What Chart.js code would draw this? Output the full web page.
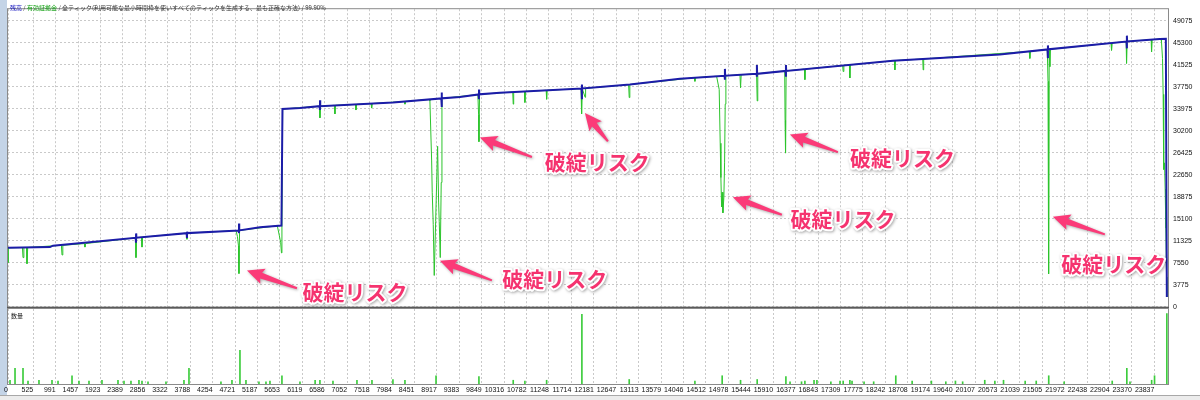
<!DOCTYPE html>
<html>
<head>
<meta charset="utf-8">
<script src="https://cdn.jsdelivr.net/npm/chart.js@4.4.1/dist/chart.umd.min.js"></script>
<style>
  html, body { margin: 0; padding: 0; background: #fff; }
  #wrap { position: relative; width: 1200px; height: 400px; overflow: hidden; background: #fff; }
  #side { position: absolute; left: 0; top: 0; width: 7px; height: 400px; background: #c4d4e7; }
  #cMain { position: absolute; left: 0; top: 0; }
  #cVol { position: absolute; left: 0; top: 308px; }
  #tabs { position: absolute; left: 0; top: 395px; width: 1200px; height: 5px; background: #ececec; border-top: 1px solid #a8a8a8; }
</style>
</head>
<body>
<div id="wrap">
  <div id="side"></div>
  <canvas id="cMain" width="1200" height="316"></canvas>
  <canvas id="cVol" width="1200" height="87"></canvas>
  <div id="tabs"></div>
</div>
<script>
// x axis = trade/tick number, y = account money
const xTicks = [0, 525, 991, 1457, 1923, 2389, 2856, 3322, 3788, 4254, 4721, 5187, 5653, 6119, 6586, 7052,
  7518, 7984, 8451, 8917, 9383, 9849, 10316, 10782, 11248, 11714, 12181, 12647, 13113, 13579, 14046, 14512,
  14978, 15444, 15910, 16377, 16843, 17309, 17775, 18242, 18708, 19174, 19640, 20107, 20573, 21039, 21505,
  21972, 22438, 22904, 23370, 23837];
const yTicks = [0, 3775, 7550, 11325, 15100, 18875, 22650, 26425, 30200, 33975, 37750, 41525, 45300, 49075];
const X_MAX = 24120;
const Y_MAX = 51090;

// balance (残高) [index, value]
const balance = [
  [0, 10130], [873, 10250], [935, 10500],
  [2655, 11840], [2661, 11000], [2663, 12600], [2667, 11850],
  [3715, 12640], [3721, 11800], [3723, 12900], [3727, 12650],
  [4795, 13100], [4802, 12650], [4804, 14300], [4808, 13120],
  [5239, 13660], [5686, 13950], [5707, 33950], [6071, 34120],
  [6480, 34440], [6486, 33780], [6488, 35460], [6492, 34450],
  [8004, 35080],
  [9010, 35780], [9017, 34290], [9019, 36800], [9023, 35790],
  [9397, 36020],
  [9786, 36460], [9792, 35630], [9794, 37310], [9798, 36470],
  [10229, 36760],
  [11927, 37460], [11933, 35630], [11935, 38150], [11940, 37470],
  [12931, 38150], [13971, 39160],
  [14900, 39650], [14906, 38990], [14908, 40840], [14912, 39660],
  [15565, 39990], [15571, 39500], [15573, 41510], [15577, 40000],
  [16170, 40490], [16175, 39500], [16177, 41510], [16181, 40500],
  [18399, 42240], [20624, 43310],
  [21615, 44190], [21622, 42690], [21624, 44870], [21628, 44200],
  [23258, 45540], [23264, 44370], [23266, 46550], [23270, 45550],
  [23950, 45970], [24075, 46000], [24096, 1680]
];

// equity (有効証拠金) [index, value]
const equity = [
  [0, 10130], [4, 9000], [6, 7560], [10, 10130],
  [300, 10170], [312, 8450], [330, 10170],
  [385, 10180], [395, 7400], [410, 10180],
  [1110, 10560], [1123, 8900], [1140, 10560],
  [1590, 10850], [1600, 10250], [1615, 10860],
  [2650, 11840], [2661, 8450], [2675, 11860],
  [2775, 11940], [2786, 10250], [2800, 11950],
  [3710, 12640], [3721, 11600], [3735, 12650],
  [4740, 13080], [4770, 12100], [4792, 10500], [4802, 5710], [4815, 13120],
  [5600, 13900], [5640, 12300], [5670, 11000], [5686, 9250], [5696, 13950],
  [5710, 33950],
  [6475, 34440], [6486, 32440], [6500, 34450],
  [6785, 34580], [6798, 33110], [6810, 34590],
  [7225, 34750], [7235, 33780], [7250, 34760],
  [7550, 34880], [7561, 34120], [7575, 34890],
  [8245, 35250], [8254, 34790], [8265, 35260],
  [8760, 35600], [8773, 35340], [8809, 25040], [8821, 19660], [8842, 14120], [8863, 5380],
  [8892, 14620], [8913, 21340], [8933, 27560], [8954, 17980], [8967, 14620], [8988, 8450],
  [9008, 21340], [9023, 35920], [9040, 35780],
  [9770, 36440], [9785, 33000], [9792, 28350], [9805, 36480],
  [10495, 36870], [10505, 34790], [10515, 36880],
  [10740, 36970], [10748, 35080], [10760, 36980],
  [11190, 37160], [11200, 35630], [11210, 37170],
  [11915, 37460], [11927, 33110], [11940, 37470], [12000, 35970], [12010, 37510],
  [12905, 38130], [12917, 35920], [12930, 38150],
  [14270, 39320], [14283, 38710], [14295, 39330],
  [14734, 39570], [14788, 37310], [14809, 28070], [14823, 22190], [14838, 17140], [14850, 19660],
  [14865, 16130], [14885, 18820], [14900, 24710], [14913, 34790], [14927, 39670],
  [15220, 39820], [15232, 37600], [15245, 39830],
  [15565, 40000], [15578, 35340], [15590, 40010],
  [16150, 40480], [16158, 32000], [16165, 28000], [16170, 26390], [16180, 40500],
  [16560, 40800], [16570, 39000], [16580, 40810],
  [17355, 41420], [17366, 40390], [17380, 41440],
  [17495, 41530], [17505, 39280], [17515, 41540],
  [18430, 42260], [18441, 40670], [18455, 42270],
  [19020, 42540], [19029, 40670], [19040, 42550],
  [21235, 43850], [21247, 42640], [21260, 43860],
  [21610, 44190], [21625, 38700], [21632, 31500], [21638, 14620], [21643, 5660], [21650, 44200],
  [21663, 41230], [21675, 44210],
  [22935, 45280], [22946, 44030], [22960, 45290],
  [23250, 45540], [23258, 41800], [23270, 45550],
  [23770, 45860], [23778, 43750], [23790, 45870],
  [23975, 45970], [23985, 45430], [24006, 42640], [24019, 36470], [24027, 29190], [24034, 23580],
  [24048, 24710], [24061, 20220], [24075, 13500], [24090, 5090], [24096, 1680]
];

// volume (数量) [index, lots]
const volume = [
  [42, 0.5], [146, 2.1], [312, 2.1], [416, 0.4], [644, 0.5], [915, 0.5], [1040, 0.4], [1331, 1.1],
  [1476, 0.4], [1684, 0.4], [1954, 0.5], [2287, 0.5], [2412, 0.4], [2557, 0.4], [2723, 0.5], [2786, 0.4],
  [2911, 0.3], [3285, 0.3], [3659, 0.5], [3763, 2.1], [4428, 0.3], [4657, 0.5], [4823, 4.5], [4948, 0.5],
  [5218, 0.3], [5364, 0.3], [5447, 0.4], [5696, 1.1], [6071, 0.3], [6386, 0.5], [6486, 0.5], [6757, 0.4],
  [7256, 0.5], [7568, 0.5], [8004, 0.6], [8254, 0.5], [8900, 1.1], [9792, 1.0], [10505, 0.5], [10748, 0.4],
  [11200, 0.5], [11933, 9.3], [12917, 0.6], [14283, 0.4], [14850, 1.1], [15232, 0.5], [15578, 0.6],
  [16175, 1.0], [16261, 0.3], [16500, 0.3], [16570, 0.4], [16760, 0.5], [16820, 0.5], [17110, 0.3],
  [17300, 0.4], [17366, 0.4], [17505, 0.5], [17550, 0.4], [17800, 0.3], [18000, 0.3], [18460, 1.1],
  [18800, 0.4], [19200, 0.4], [19500, 0.3], [19700, 0.4], [19850, 0.3], [20310, 0.5], [20520, 0.4],
  [20700, 0.5], [21150, 0.4], [21380, 0.4], [21640, 1.1], [21960, 0.3], [22960, 0.4], [23264, 2.1],
  [23330, 0.3], [23780, 0.5], [23840, 1.1], [24096, 9.4]
];

// callouts: label position and arrows [tailX, tailY, tipX, tipY] in data units
const calloutText = '破綻リスク';
const calloutLabels = [[7214, 2520], [11370, 4710], [12250, 24870], [17360, 15130], [18600, 25550], [22990, 7400]];
const calloutArrows = [
  [6008, 3190, 4969, 6220],
  [10062, 4540, 8981, 7900],
  [10894, 25720, 9813, 29080],
  [12474, 28400, 11996, 33280],
  [16091, 15800, 15072, 18820],
  [17256, 26550, 16258, 29580],
  [22807, 12440, 21726, 15460]
];

const gridColor = '#c9c9c9';
const tickFont = { family: 'Liberation Sans', size: 7 };
const pts = arr => arr.map(p => ({ x: p[0], y: p[1] }));
const plainNum = v => String(v);

const framePlugin = {
  id: 'frame',
  beforeDraw(chart) {
    const { ctx, chartArea: a } = chart;
    ctx.save();
    ctx.fillStyle = '#fff';
    ctx.fillRect(a.left, a.top, a.right - a.left, a.bottom - a.top);
    ctx.restore();
  },
  afterDraw(chart) {
    const { ctx, chartArea: a } = chart;
    ctx.save();
    ctx.strokeStyle = '#8a8a8a';
    ctx.lineWidth = 1;
    ctx.strokeRect(a.left - 0.5, a.top - 0.5, a.right - a.left + 1, a.bottom - a.top + 1);
    if (chart.canvas.id === 'cMain') {
      ctx.strokeStyle = '#5a5a5a';
      ctx.lineWidth = 2;
      ctx.beginPath();
      ctx.moveTo(a.left - 1, a.bottom + 1);
      ctx.lineTo(a.right + 1, a.bottom + 1);
      ctx.stroke();
    }
    ctx.restore();
  }
};

function drawArrow(ctx, x0, y0, x1, y1) {
  const dx = x1 - x0, dy = y1 - y0;
  const len = Math.hypot(dx, dy);
  const ux = dx / len, uy = dy / len, nx = -uy, ny = ux;
  const head = 15, hw = 8;
  const bx = x1 - ux * head, by = y1 - uy * head;
  ctx.beginPath();
  ctx.moveTo(x0 + nx * 1, y0 + ny * 1);
  ctx.lineTo(bx + nx * 3, by + ny * 3);
  ctx.lineTo(bx - ux * 2 + nx * hw, by - uy * 2 + ny * hw);
  ctx.lineTo(x1, y1);
  ctx.lineTo(bx - ux * 2 - nx * hw, by - uy * 2 - ny * hw);
  ctx.lineTo(bx - nx * 3, by - ny * 3);
  ctx.lineTo(x0 - nx * 1, y0 - ny * 1);
  ctx.closePath();
  ctx.fill();
}

const calloutPlugin = {
  id: 'callouts',
  afterDatasetsDraw(chart) {
    const { ctx, scales: { x, y } } = chart;
    ctx.save();
    ctx.shadowColor = 'rgba(0,0,0,0.35)';
    ctx.shadowBlur = 3;
    ctx.shadowOffsetX = 1;
    ctx.shadowOffsetY = 1;
    ctx.fillStyle = '#fb3a78';
    calloutArrows.forEach(a => {
      drawArrow(ctx, x.getPixelForValue(a[0]), y.getPixelForValue(a[1]),
        x.getPixelForValue(a[2]), y.getPixelForValue(a[3]));
    });
    ctx.font = 'bold 21px "Noto Sans CJK JP"';
    ctx.textAlign = 'center';
    ctx.textBaseline = 'middle';
    ctx.lineJoin = 'round';
    calloutLabels.forEach(l => {
      const px = x.getPixelForValue(l[0]), py = y.getPixelForValue(l[1]);
      ctx.strokeStyle = '#fff';
      ctx.lineWidth = 4;
      ctx.strokeText(calloutText, px, py);
    });
    ctx.shadowColor = 'transparent';
    calloutLabels.forEach(l => {
      const px = x.getPixelForValue(l[0]), py = y.getPixelForValue(l[1]);
      ctx.fillStyle = '#f5336f';
      ctx.fillText(calloutText, px, py);
    });
    ctx.restore();
  }
};

const titlePlugin = {
  id: 'title',
  afterDraw(chart) {
    const ctx = chart.ctx;
    const parts = [
      ['残高', '#1010c0'], [' / ', '#333'], ['有効証拠金', '#10a010'],
      [' / 全ティック(利用可能な最小時間枠を使いすべてのティックを生成する、最も正確な方法) / 99.90%', '#333']
    ];
    ctx.save();
    ctx.font = '6px "Noto Sans CJK JP"';
    ctx.textBaseline = 'middle';
    let px = 10;
    parts.forEach(p => {
      ctx.fillStyle = p[1];
      ctx.fillText(p[0], px, 8);
      px += ctx.measureText(p[0]).width;
    });
    ctx.restore();
  }
};

new Chart(document.getElementById('cMain'), {
  type: 'line',
  data: {
    datasets: [
      { label: '有効証拠金', data: pts(equity), borderColor: '#2cc42c', borderWidth: 1, pointRadius: 0, tension: 0, order: 2 },
      { label: '残高', data: pts(balance), borderColor: '#1c1ca8', borderWidth: 2, pointRadius: 0, tension: 0, order: 1 }
    ]
  },
  options: {
    responsive: false, animation: false, devicePixelRatio: 1,
    layout: { padding: { left: 8, right: 0, top: 3, bottom: 9 }, autoPadding: false },
    plugins: { legend: { display: false }, tooltip: { enabled: false } },
    scales: {
      x: {
        type: 'linear', min: 0, max: X_MAX,
        afterBuildTicks: s => { s.ticks = xTicks.map(v => ({ value: v })); },
        afterFit: s => { s.height = 0; },
        ticks: { display: false },
        grid: { color: gridColor, drawTicks: false },
        border: { display: false, dash: [2, 2] }
      },
      y: {
        position: 'right', min: 0, max: Y_MAX,
        afterBuildTicks: s => { s.ticks = yTicks.map(v => ({ value: v })); },
        afterFit: s => { s.width = 32; },
        ticks: { padding: 5, font: tickFont, color: '#111', autoSkip: false, callback: plainNum },
        grid: { color: gridColor, drawTicks: false },
        border: { display: false, dash: [2, 2] }
      }
    }
  },
  plugins: [framePlugin, calloutPlugin, titlePlugin]
});

const volLabelPlugin = {
  id: 'volLabel',
  afterDraw(chart) {
    const ctx = chart.ctx;
    ctx.save();
    ctx.font = '6px "Noto Sans CJK JP"';
    ctx.fillStyle = '#222';
    ctx.textBaseline = 'middle';
    ctx.fillText('数量', 11, 8);
    ctx.restore();
  }
};

new Chart(document.getElementById('cVol'), {
  type: 'bar',
  data: {
    datasets: [{ label: '数量', data: pts(volume), backgroundColor: '#3ccc3c', barThickness: 1, grouped: false }]
  },
  options: {
    responsive: false, animation: false, devicePixelRatio: 1,
    layout: { padding: { left: 8, right: 0, top: 1, bottom: 0 }, autoPadding: false },
    plugins: { legend: { display: false }, tooltip: { enabled: false } },
    scales: {
      x: {
        type: 'linear', min: 0, max: X_MAX, offset: false,
        afterBuildTicks: s => { s.ticks = xTicks.map(v => ({ value: v })); },
        afterFit: s => { s.height = 11; },
        ticks: { align: 'end', padding: 2, font: tickFont, color: '#111', autoSkip: false, maxRotation: 0, callback: plainNum },
        grid: { color: gridColor, drawTicks: false, offset: false },
        border: { display: false, dash: [2, 2] }
      },
      y: {
        position: 'right', min: 0, max: 10,
        afterFit: s => { s.width = 32; },
        ticks: { display: false },
        grid: { display: false },
        border: { display: false }
      }
    }
  },
  plugins: [framePlugin, volLabelPlugin]
});
</script>
</body>
</html>
